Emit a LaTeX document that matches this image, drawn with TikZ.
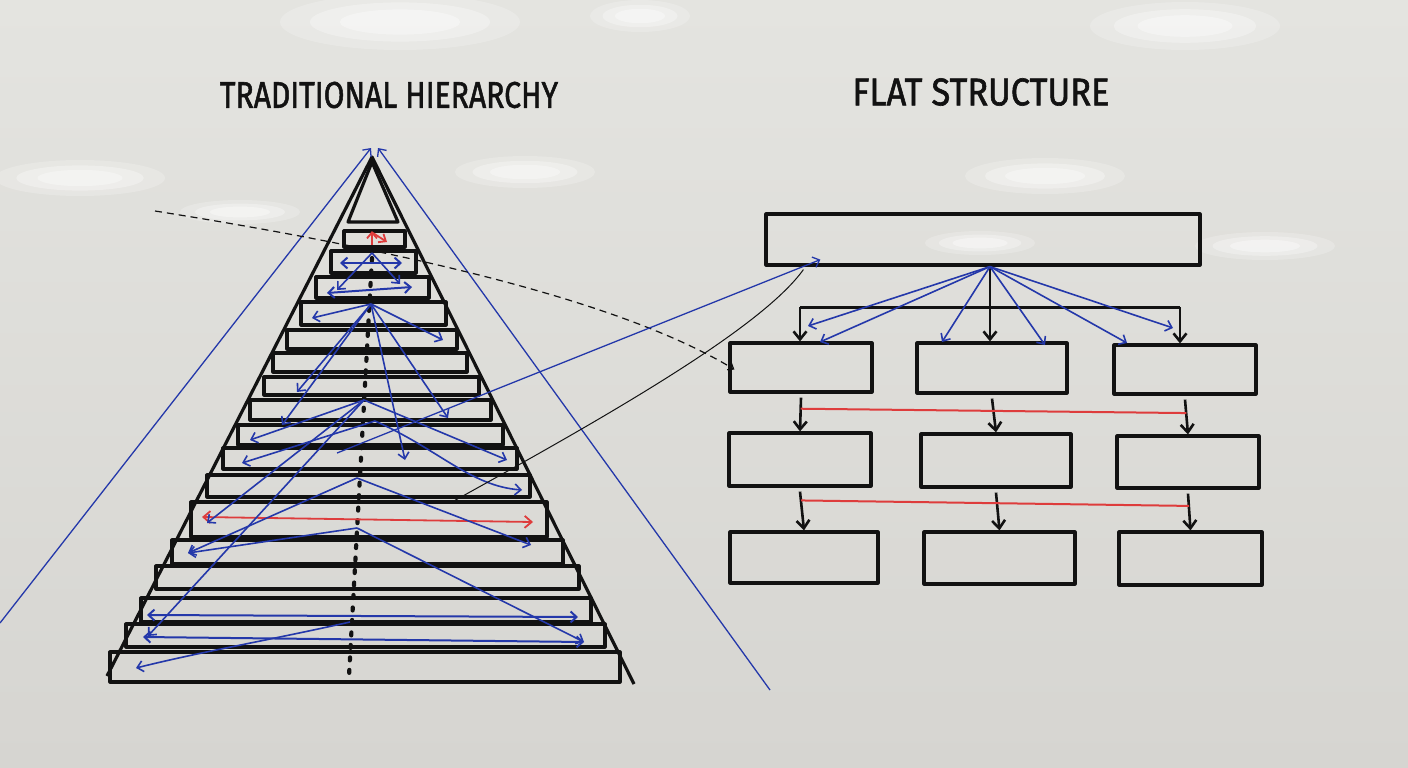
\documentclass[tikz,border=0pt]{standalone}
\usepackage{fontspec}
\usepackage{graphicx}
\setmainfont{Fira Sans}
\newfontfamily\markerfont{Fira Sans}[FakeBold=1.6]
\usetikzlibrary{arrows.meta,calc,positioning}

\definecolor{boardtop}{RGB}{228,228,224}
\definecolor{boardbot}{RGB}{214,213,209}
\definecolor{ink}{RGB}{18,18,18}
\definecolor{markerblue}{RGB}{36,56,170}
\definecolor{markerred}{RGB}{222,60,60}

\tikzset{
  marker/.style={draw=ink, line width=3.2pt, line join=round},
  flatbox/.style={marker, rectangle, inner sep=0pt},
  flatline/.style={ink, line width=3pt},
  flatarrow/.style={ink, line width=2.6pt, -{Straight Barb[length=8pt,width=13pt]}},
  bluearrow/.style={markerblue, line width=1.6pt, -{Straight Barb[length=6pt,width=11pt]}},
  bluedouble/.style={markerblue, line width=2pt, {Straight Barb[length=6pt,width=11pt]}-{Straight Barb[length=6pt,width=11pt]}},
  redarrow/.style={markerred, line width=1.8pt, -{Straight Barb[length=6pt,width=10pt]}},
  reddouble/.style={markerred, line width=1.8pt, {Straight Barb[length=7pt,width=12pt]}-{Straight Barb[length=7pt,width=12pt]}},
  redline/.style={markerred, line width=2pt},
  title/.style={inner sep=0pt, text=ink, font=\markerfont}
}

\begin{document}
\begin{tikzpicture}[x=1pt,y=-1pt]
    \useasboundingbox (0,0) rectangle (1408,768);
    \shade[top color=boardtop, bottom color=boardbot] (0,0) rectangle (1408,768);
    % glare on the board
    \foreach \x/\y/\rx/\ry in {400/22/120/28, 640/16/50/16, 1185/26/95/24, 80/178/85/18,
        525/172/70/16, 1045/176/80/18, 240/212/60/12, 1265/246/70/14, 980/243/55/12} {
        \fill[white, opacity=.2] (\x,\y) ellipse [x radius=\rx pt, y radius=\ry pt];
        \fill[white, opacity=.3] (\x,\y) ellipse [x radius=.75*\rx pt, y radius=.7*\ry pt];
        \fill[white, opacity=.35] (\x,\y) ellipse [x radius=.5*\rx pt, y radius=.45*\ry pt];
    }

    \node[title] (titleHier) at (389,95) {\resizebox{338pt}{26pt}{TRADITIONAL HIERARCHY}};
    \node[title] (titleFlat) at (981,92) {\resizebox{257pt}{27pt}{FLAT STRUCTURE}};

    % pyramid
    \coordinate (apex) at (372,157);
    \draw[marker] (107,676) -- (apex) -- (634,684);
    \draw[marker] (372,162) -- (348,222) -- (398,222) -- cycle;
    \foreach \yt/\yb/\xl/\xr in {231/247/344/405, 251/273/331/416, 277/298/316/429,
        302/325/301/446, 330/349/287/457, 353/372/273/467, 377/395/264/479,
        400/420/250/491, 425/445/238/503, 448/469/223/517, 475/497/207/530,
        502/537/191/547, 540/564/172/563, 566/589/156/579, 598/622/141/591,
        624/647/126/605, 652/682/110/620} {
        \draw[marker] (\xl,\yt) rectangle (\xr,\yb);
    }
    \draw[ink, line width=4.2pt, line cap=round, dash pattern=on 3pt off 9.5pt] (372,258) -- (349,676);

    \draw[bluearrow, line width=1.3pt] (0,623) -- (371,148);
    \draw[bluearrow, line width=1.3pt] (770,690) -- (378,148);

    \draw[redarrow] (372,245) -- (372,231);
    \draw[redarrow] (373,233) -- (387,242);
    \draw[reddouble] (202,517) -- (533,522);

    \draw[bluedouble] (340,263) -- (402,263);
    \draw[bluedouble] (327,293) -- (412,287);
    \draw[bluedouble] (147,615) -- (578,617);
    \draw[bluedouble] (143,637) -- (584,642);

    \coordinate (P2) at (372,253);
    \coordinate (P4) at (371,304);
    \coordinate (P8) at (364,400);
    \coordinate (P9) at (375,421);
    \coordinate (P11) at (357,478);
    \coordinate (P12) at (357,528);
    \coordinate (P16) at (350,622);
    \foreach \x/\y in {337/290, 400/284} \draw[bluearrow] (P2) -- (\x,\y);
    \foreach \x/\y in {312/318, 443/340, 297/392, 282/425, 405/460, 448/418} \draw[bluearrow] (P4) -- (\x,\y);
    \foreach \x/\y in {250/440, 507/460, 207/523, 148/636} \draw[bluearrow] (P8) -- (\x,\y);
    \draw[bluearrow] (P9) -- (242,463);
    \draw[bluearrow] (P9) .. controls (440,450) and (470,486) .. (522,490);
    \foreach \x/\y in {188/553, 531/545} \draw[bluearrow] (P11) -- (\x,\y);
    \draw[bluearrow] (P12) -- (188,553);
    \draw[bluearrow] (P12) -- (584,642);
    \draw[bluearrow] (P16) .. controls (270,640) and (200,652) .. (136,668);

    % flat structure
    \foreach \n/\cx/\cy/\w/\h in {top/983/239.5/434/51,
        a1/801/367.5/142/49, a2/992/368/150/50, a3/1185/369.5/142/49,
        b1/800/459.5/142/53, b2/996/460.5/150/53, b3/1188/462/142/52,
        c1/804/557.5/148/51, c2/999.5/558/151/52, c3/1190.5/558.5/143/53} {
        \node[flatbox, minimum width=\w pt, minimum height=\h pt] (\n) at (\cx,\cy) {};
    }
    \coordinate (hub) at ([xshift=7pt]top.south);
    \coordinate (bus) at (990,307);
    \draw[flatarrow] (hub) -- (hub |- a2.north);
    \draw[flatline] ([xshift=-1pt]a1.north |- bus) -- ([xshift=-5pt]a3.north |- bus);
    \draw[flatarrow] ([xshift=-1pt]a1.north |- bus) -- ([xshift=-1pt]a1.north);
    \draw[flatarrow] ([xshift=-5pt]a3.north |- bus) -- ([xshift=-5pt]a3.north);
    \foreach \x/\y in {808/326, 820/342, 942/342, 1045/345, 1127/343, 1173/328} \draw[bluearrow] (hub) -- (\x,\y);

    \foreach \u/\v in {a1/b1, a2/b2, a3/b3, b1/c1, b2/c2, b3/c3} {
        \draw[flatarrow] ([yshift=-4pt]\u.south) -- (\v.north);
    }
    \draw[redline] ($(a1.south)!.4!(b1.north)$) -- ($(a3.south)!.45!(b3.north)$);
    \draw[redline] ($(b1.south)!.3!(c1.north)$) -- ($(b3.south)!.4!(c3.north)$);

    % links across
    \coordinate (dashStart) at (155,211);
    \coordinate (dashEnd) at ($(a1.west)+(6,2)$);
    \draw[ink, line width=1.2pt, dash pattern=on 7pt off 5pt, -{Straight Barb[length=5pt,width=8pt]}]
        (dashStart) .. controls (400,250) and (620,300) .. (dashEnd);
    \coordinate (thinStart) at (452,502);
    \coordinate (thinEnd) at ($(top.south west)+(39,3)$);
    \draw[ink, line width=1pt] (thinStart) .. controls (600,420) and (760,330) .. (thinEnd);
    \coordinate (blueStart) at (337,453);
    \draw[bluearrow, line width=1.3pt] (blueStart) -- ($(top.south west)+(56,-7)$);
\end{tikzpicture}
\end{document}
